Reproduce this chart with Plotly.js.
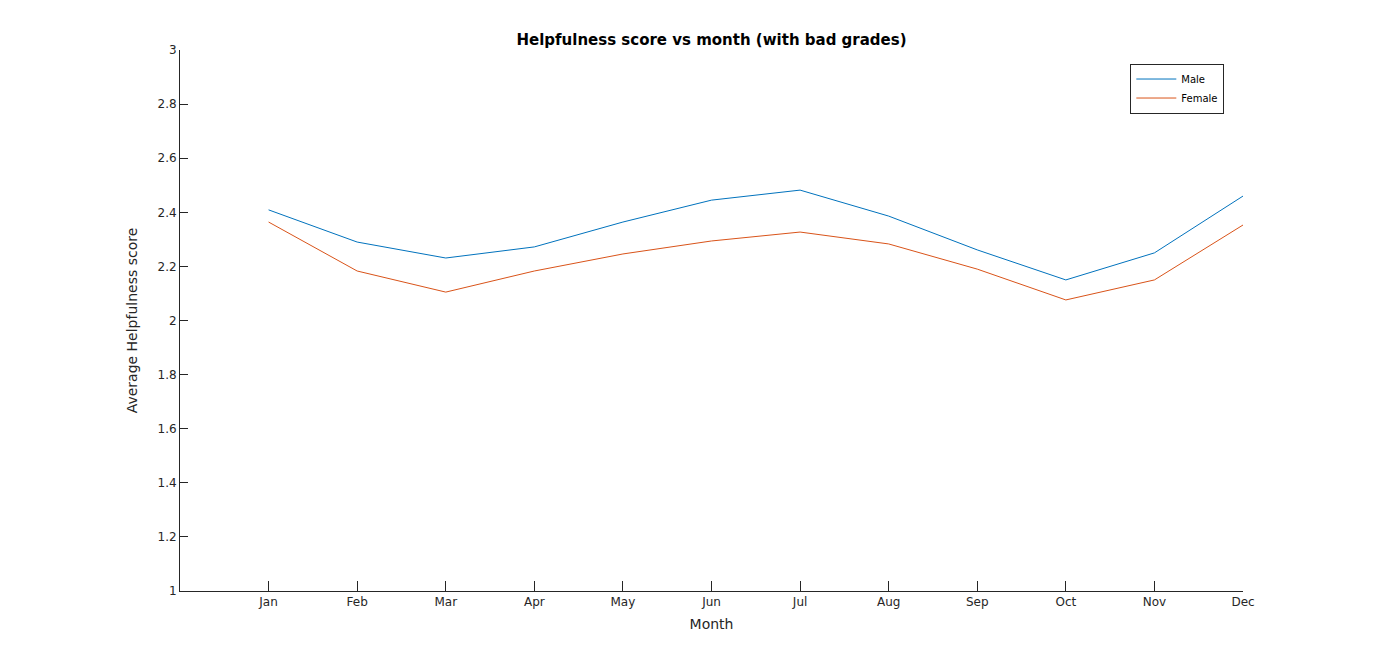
<!DOCTYPE html>
<html>
<head>
<meta charset="utf-8">
<script src="https://cdn.plot.ly/plotly-3.0.1.min.js"></script>
<style>html,body{margin:0;padding:0;background:#fff;}</style>
</head>
<body>
<div id="chart" style="width:1375px;height:665px;"></div>
<script>
const months = ['Jan','Feb','Mar','Apr','May','Jun','Jul','Aug','Sep','Oct','Nov','Dec'];
const monthIdx = [1,2,3,4,5,6,7,8,9,10,11,12];
const male = [2.409, 2.290, 2.231, 2.272, 2.364, 2.445, 2.482, 2.386, 2.261, 2.150, 2.250, 2.460];
const female = [2.364, 2.183, 2.105, 2.183, 2.246, 2.294, 2.327, 2.283, 2.190, 2.076, 2.150, 2.353];
const yTicks = [1, 1.2, 1.4, 1.6, 1.8, 2, 2.2, 2.4, 2.6, 2.8, 3];

const font = { family: 'DejaVu Sans, sans-serif', size: 12, color: '#262626' };

const traces = [
  { x: monthIdx, y: male, mode: 'lines', type: 'scatter', name: 'Male',
    line: { color: '#0072bd', width: 1 } },
  { x: monthIdx, y: female, mode: 'lines', type: 'scatter', name: 'Female',
    line: { color: '#d95319', width: 1 } }
];

const layout = {
  width: 1375, height: 665,
  margin: { l: 180, r: 132, t: 50, b: 74 },
  paper_bgcolor: '#fff', plot_bgcolor: '#fff',
  font: font,
  showlegend: true,
  title: { text: '<b>Helpfulness score vs month (with bad grades)</b>',
           x: 0.5, xref: 'paper', y: 1, yref: 'paper', yanchor: 'bottom', pad: { b: 5 },
           font: { family: 'DejaVu Sans, sans-serif', size: 15, color: '#000' } },
  xaxis: {
    range: [0, 12], tickvals: monthIdx, ticktext: months,
    ticks: 'inside', ticklen: 10, tickcolor: '#262626',
    showline: true, linecolor: '#262626', linewidth: 1, showgrid: false, zeroline: false,
    tickfont: { size: 12 },
    title: { text: 'Month', font: { size: 14 }, standoff: 10 }
  },
  yaxis: {
    range: [1, 3], tickvals: yTicks, ticktext: yTicks.map(String),
    ticks: 'inside', ticklen: 8, tickcolor: '#262626',
    showline: true, linecolor: '#262626', linewidth: 1, showgrid: false, zeroline: false,
    title: { text: 'Average Helpfulness score', font: { size: 14 }, standoff: 16 }
  },
  legend: {
    x: 0.894, y: 0.975, xanchor: 'left', yanchor: 'top',
    bordercolor: '#262626', borderwidth: 1, bgcolor: '#fff',
    font: { size: 10, color: '#000' }, tracegroupgap: 0, itemwidth: 40
  }
};

Plotly.newPlot('chart', traces, layout, { staticPlot: true });
</script>
</body>
</html>
